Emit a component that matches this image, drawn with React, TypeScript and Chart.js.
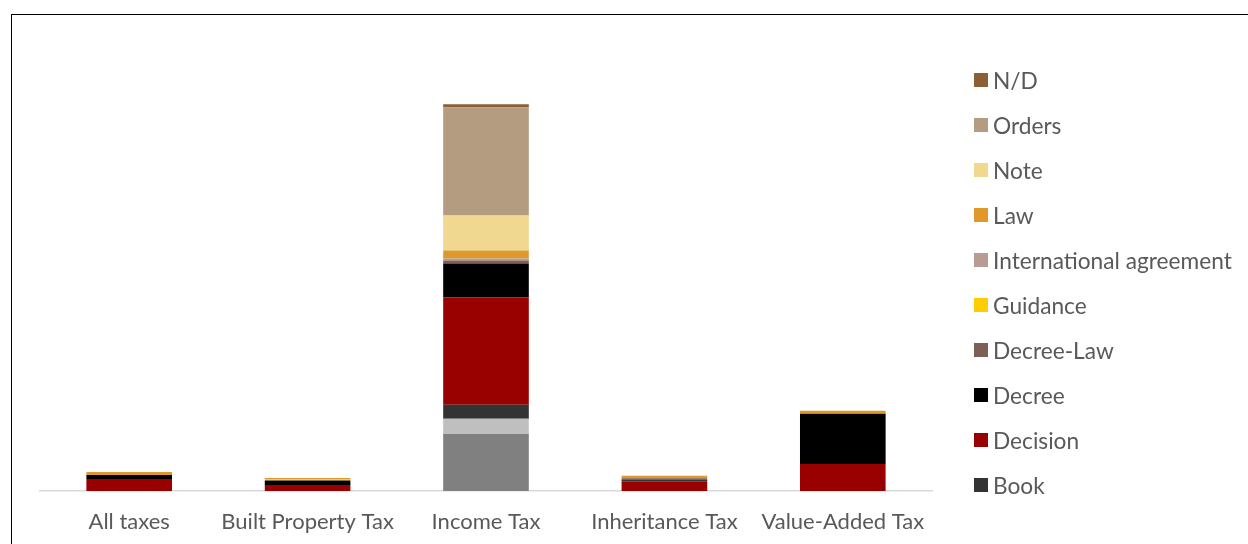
import React, { useEffect, useRef } from "react";
import { Chart, registerables } from "chart.js";

Chart.register(...registerables);

const categories = ["All taxes", "Built Property Tax", "Income Tax", "Inheritance Tax", "Value-Added Tax"];

// Series, bottom of the stack first
const seriesNames = [
  "Administrative act",
  "Agreement",
  "Book",
  "Decision",
  "Decree",
  "Decree-Law",
  "Guidance",
  "International agreement",
  "Law",
  "Note",
  "Orders",
  "N/D",
];

const administrativeAct = [0, 0, 57, 0, 0];
const agreement = [0, 0, 15, 0, 0];
const book = [0, 0, 14, 0, 0];
const decision = [12, 6, 107, 9.5, 27];
const decree = [4, 4.5, 34, 1.3, 50];
const decreeLaw = [0, 0, 3, 2, 0];
const guidance = [0, 1, 0, 0, 0];
const internationalAgreement = [0, 0, 2, 0, 0];
const law = [3, 1.5, 8, 2.3, 3];
const note = [0, 0, 35, 0, 0];
const orders = [0, 0, 108, 0, 0];
const nd = [0, 0, 3, 0, 0];

const seriesValues = [
  administrativeAct,
  agreement,
  book,
  decision,
  decree,
  decreeLaw,
  guidance,
  internationalAgreement,
  law,
  note,
  orders,
  nd,
];

const seriesColors = [
  "#808080",
  "#bfbfbf",
  "#333333",
  "#990000",
  "#000000",
  "#7d5f54",
  "#ffcc00",
  "#b89b92",
  "#e0982a",
  "#f0d890",
  "#b39c7f",
  "#8b5e35",
];

// series shown in the (truncated) legend, top to bottom
const legendNames = [
  "N/D",
  "Orders",
  "Note",
  "Law",
  "International agreement",
  "Guidance",
  "Decree-Law",
  "Decree",
  "Decision",
  "Book",
];

const FONT = "Lato, 'Open Sans', sans-serif";
const TEXT = "#595959";

export default function App() {
  const ref = useRef<HTMLCanvasElement | null>(null);

  useEffect(() => {
    if (!ref.current) return;
    const chart = new Chart(ref.current, {
      type: "bar",
      data: {
        labels: categories,
        datasets: seriesNames.map((name, i) => ({
          label: name,
          data: seriesValues[i],
          backgroundColor: seriesColors[i],
          borderWidth: 0,
          categoryPercentage: 1,
          barPercentage: 0.48,
        })),
      },
      options: {
        animation: false,
        responsive: false,
        maintainAspectRatio: false,
        layout: { padding: { left: 40, right: 316, top: 30, bottom: 0.6 } },
        plugins: {
          legend: { display: false },
          tooltip: { enabled: false },
        },
        scales: {
          x: {
            stacked: true,
            grid: { display: false, drawTicks: false },
            border: { display: true, color: "#d9d9d9", width: 1.5 },
            ticks: {
              color: TEXT,
              padding: 18,
              font: { family: FONT, size: 22 },
              maxRotation: 0,
              autoSkip: false,
            },
          },
          y: {
            stacked: true,
            display: false,
            min: 0,
            max: 460,
          },
        },
      },
    });
    return () => chart.destroy();
  }, []);

  return (
    <div style={{ position: "fixed", left: 0, top: 0, width: 1248, height: 544, overflow: "hidden", background: "#fff" }}>
      <canvas ref={ref} width={1248} height={554} style={{ position: "absolute", left: 0, top: 0, width: 1248, height: 554 }} />
      <div
        style={{
          position: "absolute",
          left: 10.5,
          top: 13.8,
          width: 1400,
          height: 700,
          border: "1.5px solid #000",
          pointerEvents: "none",
          boxSizing: "border-box",
        }}
      />
      {legendNames.map((name, i) => {
        const idx = seriesNames.indexOf(name);
        return (
          <div
            key={name}
            style={{
              position: "absolute",
              left: 974,
              top: 80 - 22.5 + i * 45,
              height: 45,
              display: "flex",
              alignItems: "center",
              fontFamily: FONT,
              fontSize: 22.7,
              color: TEXT,
              whiteSpace: "nowrap",
            }}
          >
            <span style={{ display: "inline-block", width: 14, height: 14, background: seriesColors[idx], marginRight: 5 }} />
            <span>{name}</span>
          </div>
        );
      })}
    </div>
  );
}
